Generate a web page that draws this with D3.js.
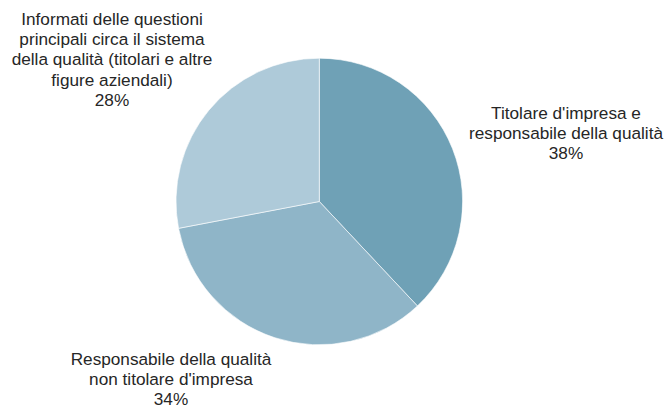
<!DOCTYPE html>
<html>
<head>
<meta charset="utf-8">
<script src="https://cdn.jsdelivr.net/npm/d3@7"></script>
<style>
  html, body { margin: 0; padding: 0; background: #ffffff; }
  svg { display: block; }
  text { font-family: "Liberation Sans", Arial, sans-serif; fill: #262626; }
</style>
</head>
<body>
<svg id="chart" width="669" height="408"></svg>
<script>
// Ruolo del referente per la qualità (quote percentuali)
const categories = [
  "Titolare d'impresa e responsabile della qualità",
  "Responsabile della qualità non titolare d'impresa",
  "Informati delle questioni principali circa il sistema della qualità (titolari e altre figure aziendali)"
];
const values = [38, 34, 28];
const labelLines = [
  ["Titolare d'impresa e", "responsabile della qualità"],
  ["Responsabile della qualità", "non titolare d'impresa"],
  ["Informati delle questioni", "principali circa il sistema", "della qualità (titolari e altre", "figure aziendali)"]
];
const colors = ["#6fa1b6", "#8fb5c8", "#aecad9"];

const width = 669, height = 408;
const cx = 319.3, cy = 201.5, radius = 143.3;
const fontSize = 17.2, lineHeight = 20.4;

const svg = d3.select("#chart");
const g = svg.append("g").attr("transform", `translate(${cx},${cy})`);

const pie = d3.pie().sort(null).value(d => d.value);
const arc = d3.arc().innerRadius(0).outerRadius(radius);

const data = categories.map((c, i) => ({ name: c, value: values[i], lines: labelLines[i], color: colors[i] }));
const arcs = pie(data);

g.selectAll("path.slice")
  .data(arcs)
  .join("path")
  .attr("class", "slice")
  .attr("d", arc)
  .attr("fill", d => d.data.color)
  .attr("stroke", "#ffffff")
  .attr("stroke-width", 0.6);

// Label placement: outside the pie, centred text blocks
const total = d3.sum(values);
const labelPos = [
  { x: 566, y: 118.5 },
  { x: 171, y: 364.5 },
  { x: 112, y: 24.5 }
];

arcs.forEach((a, i) => {
  const lines = a.data.lines.concat([d3.format(".0%")(a.data.value / total)]);
  const t = svg.append("text")
    .attr("text-anchor", "middle")
    .attr("font-size", fontSize)
    .attr("x", labelPos[i].x)
    .attr("y", labelPos[i].y);
  lines.forEach((ln, j) => {
    t.append("tspan")
      .attr("x", labelPos[i].x)
      .attr("dy", j === 0 ? 0 : lineHeight)
      .text(ln);
  });
});
</script>
</body>
</html>
